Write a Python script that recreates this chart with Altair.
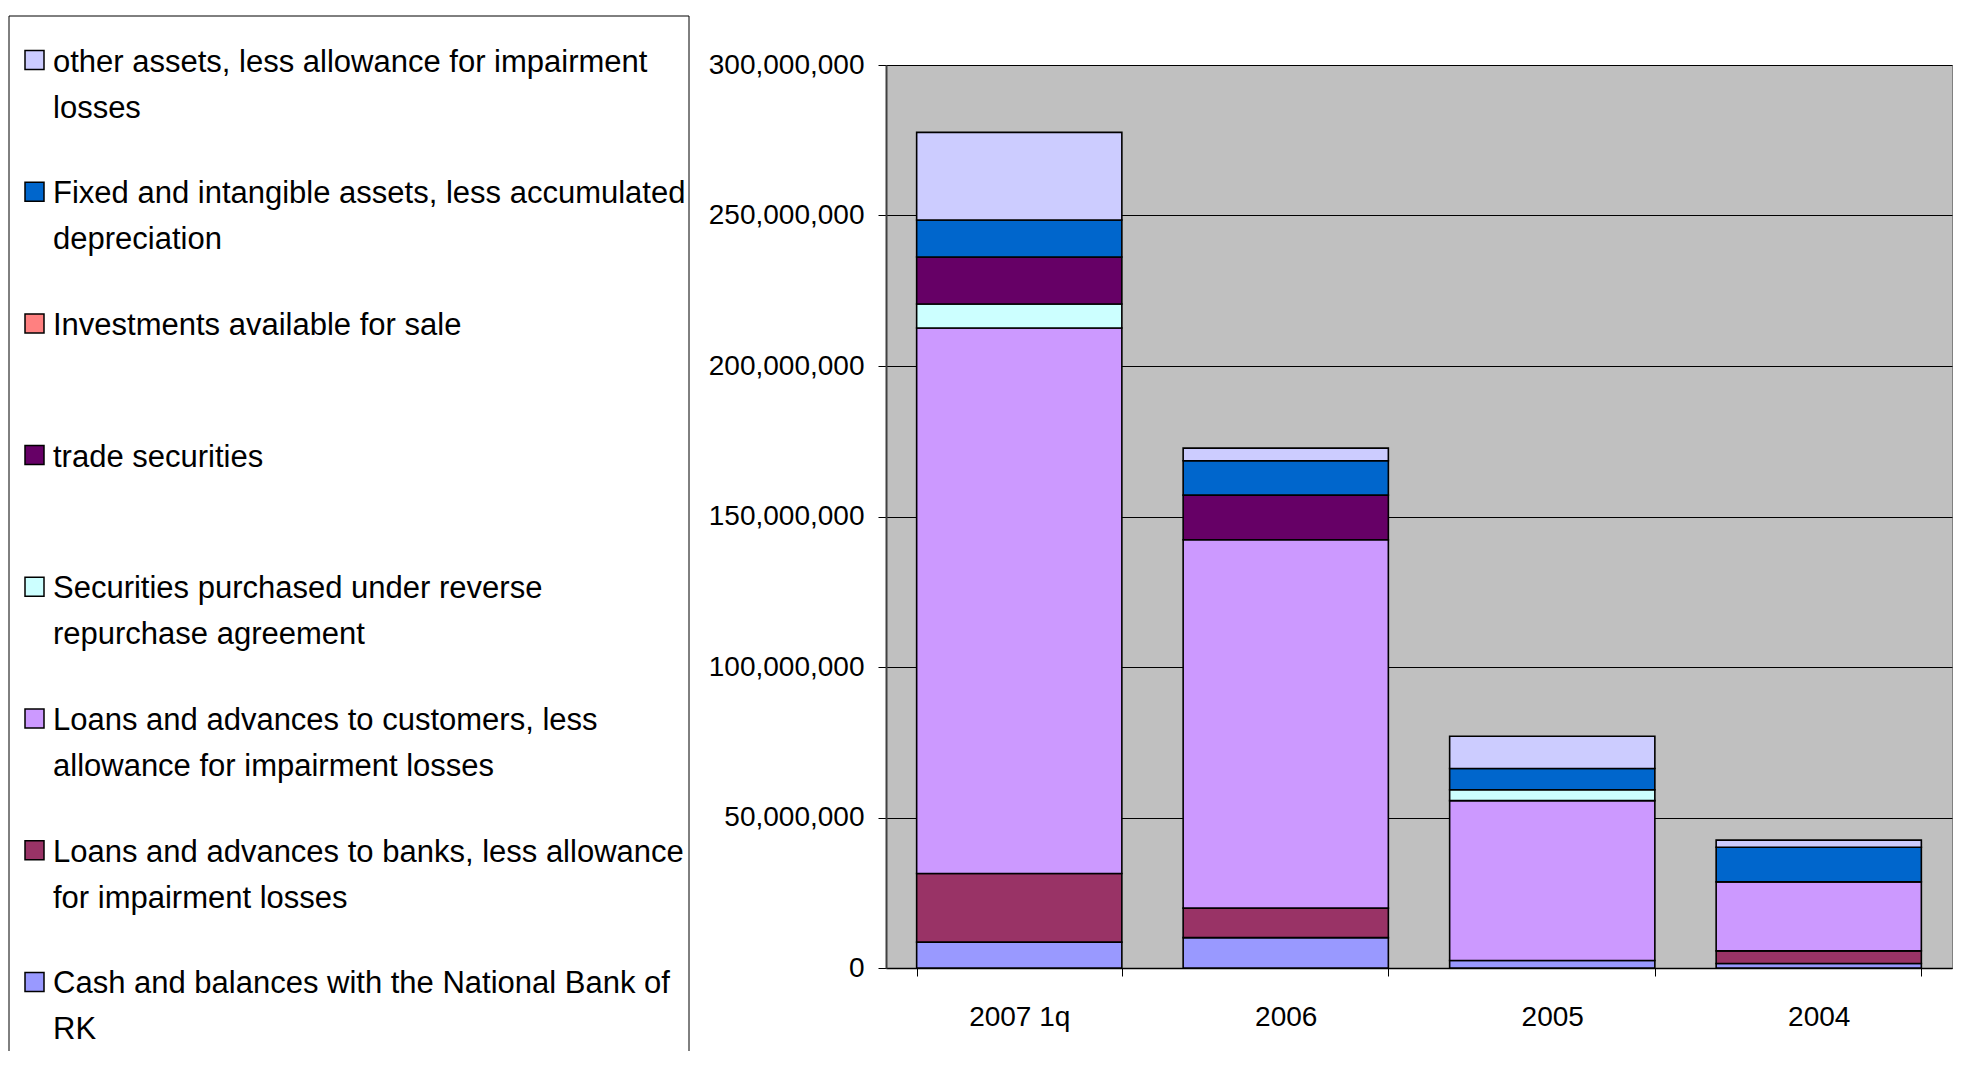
import altair as alt
import pandas as pd

categories = ["2007 1q", "2006", "2005", "2004"]

# stack order, bottom to top
series_names = [
    "Cash and balances with the National Bank of RK",
    "Loans and advances to banks, less allowance for impairment losses",
    "Loans and advances to customers, less allowance for impairment losses",
    "Securities purchased under reverse repurchase agreement",
    "trade securities",
    "Investments available for sale",
    "Fixed and intangible assets, less accumulated depreciation",
    "other assets, less allowance for impairment losses",
]
series_colors = ["#9999FF", "#993366", "#CC99FF", "#CCFFFF", "#660066", "#FF8080", "#0066CC", "#CCCCFF"]

# values per category (2007 1q, 2006, 2005, 2004)
cash = [8_600_000, 10_100_000, 2_500_000, 1_500_000]
banks = [22_800_000, 9_800_000, 0, 4_200_000]
loans_customers = [181_200_000, 122_400_000, 53_100_000, 22_900_000]
reverse_repo = [8_000_000, 0, 3_600_000, 0]
trade_securities = [15_600_000, 14_800_000, 0, 0]
investments_afs = [0, 0, 0, 0]
fixed_assets = [12_300_000, 11_400_000, 7_100_000, 11_500_000]
other_assets = [29_100_000, 4_200_000, 10_700_000, 2_400_000]

series_values = [cash, banks, loans_customers, reverse_repo, trade_securities,
                 investments_afs, fixed_assets, other_assets]

# legend, top to bottom
legend_labels = [
    "other assets, less allowance for impairment\nlosses",
    "Fixed and intangible assets, less accumulated\ndepreciation",
    "Investments available for sale",
    "trade securities",
    "Securities purchased under reverse\nrepurchase agreement",
    "Loans and advances to customers, less\nallowance for impairment losses",
    "Loans and advances to banks, less allowance\nfor impairment losses",
    "Cash and balances with the National Bank of\nRK",
]
legend_series = list(reversed(series_names))

y_ticks = [0, 50_000_000, 100_000_000, 150_000_000, 200_000_000, 250_000_000, 300_000_000]

rows = []
for k, (name, vals) in enumerate(zip(series_names, series_values)):
    for cat, v in zip(categories, vals):
        if v > 0:
            rows.append({"category": cat, "series": name, "value": v, "ord": k})
df = pd.DataFrame(rows)

color_scale = alt.Scale(domain=series_names, range=series_colors)
FONT = "Liberation Sans"
PLOT_W, PLOT_H = 1066, 903

bars = alt.Chart(df).mark_bar(stroke="black", strokeWidth=1.6).encode(
    x=alt.X("category:N", sort=categories,
            scale=alt.Scale(paddingInner=0.23, paddingOuter=0.115),
            axis=alt.Axis(title=None, labelAngle=0, labelFont=FONT, labelFontSize=28,
                          labelColor="black", tickBand="extent", tickSize=8, tickColor="black",
                          domainColor="black", domainWidth=1.5, labelPadding=27, grid=False)),
    y=alt.Y("value:Q", stack="zero",
            scale=alt.Scale(domain=[0, 300_000_000], nice=False),
            axis=alt.Axis(title=None, values=y_ticks, format=",.0f", labelFont=FONT,
                          labelFontSize=28, labelColor="black", tickSize=8, tickColor="black",
                          domainColor="#404040", domainWidth=2, labelPadding=14,
                          gridColor="black", gridWidth=1, gridOpacity=1)),
    color=alt.Color("series:N", scale=color_scale, legend=None),
    order=alt.Order("ord:Q", sort="ascending"),
).properties(
    width=PLOT_W, height=PLOT_H,
    view=alt.ViewBackground(fill="#C0C0C0", stroke="#808080", strokeWidth=1),
)

# legend panel: its view top is aligned with the plot top, the box starts 49px higher
W = 680
BOX_TOP, BOX_BOTTOM = -49, 986
FIRST, STEP = -5, 131.7
leg_df = pd.DataFrame({"label": legend_labels, "series": legend_series, "idx": list(range(8))})
yscale = alt.Scale(domain=[0, 7], range=[FIRST, FIRST + 7 * STEP], nice=False, zero=False)

swatches = alt.Chart(leg_df).mark_square(size=361, stroke="black", strokeWidth=1.5, opacity=1).encode(
    x=alt.value(25.5),
    y=alt.Y("idx:Q", scale=yscale, axis=None),
    color=alt.Color("series:N", scale=color_scale, legend=None),
)
texts = alt.Chart(leg_df).mark_text(
    align="left", baseline="alphabetic", dy=11.5, lineBreak="\n", lineHeight=46,
    font=FONT, fontSize=31, color="black",
).encode(
    x=alt.value(44),
    y=alt.Y("idx:Q", scale=yscale, axis=None),
    text="label:N",
)
frame_df = pd.DataFrame({"a": [0]})
left_edge = alt.Chart(frame_df).mark_rule(color="black", strokeWidth=1).encode(
    x=alt.value(0), y=alt.value(BOX_TOP), y2=alt.value(BOX_BOTTOM))
right_edge = alt.Chart(frame_df).mark_rule(color="black", strokeWidth=1).encode(
    x=alt.value(W), y=alt.value(BOX_TOP), y2=alt.value(BOX_BOTTOM))
top_edge = alt.Chart(frame_df).mark_rule(color="black", strokeWidth=1).encode(
    x=alt.value(0), x2=alt.value(W), y=alt.value(BOX_TOP))

legend_panel = alt.layer(left_edge, right_edge, top_edge, swatches, texts).properties(
    width=W, height=PLOT_H, view=alt.ViewBackground(strokeOpacity=0))

chart = alt.hconcat(legend_panel, bars, spacing=17).properties(
    padding={"left": 0, "top": 7, "right": 0, "bottom": 0},
    background="white",
)

chart.save("out.html", embed_options={"renderer": "svg", "actions": False})
